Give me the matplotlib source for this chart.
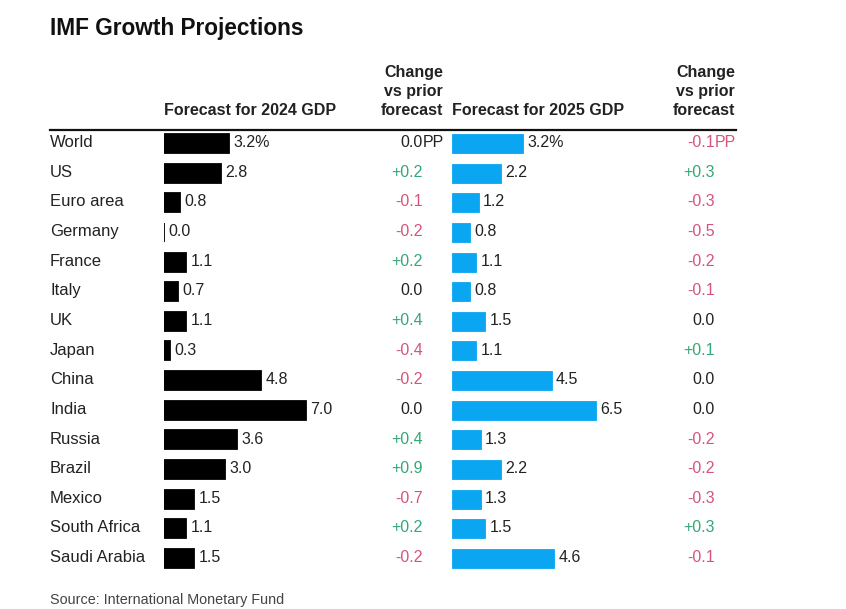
import matplotlib.pyplot as plt
from matplotlib.lines import Line2D
from matplotlib.transforms import blended_transform_factory

plt.rcParams['font.family'] = ['Liberation Sans', 'DejaVu Sans']

countries = ["World", "US", "Euro area", "Germany", "France", "Italy", "UK", "Japan",
             "China", "India", "Russia", "Brazil", "Mexico", "South Africa", "Saudi Arabia"]
gdp_2024 = [3.2, 2.8, 0.8, 0.0, 1.1, 0.7, 1.1, 0.3, 4.8, 7.0, 3.6, 3.0, 1.5, 1.1, 1.5]
chg_2024 = [0.0, 0.2, -0.1, -0.2, 0.2, 0.0, 0.4, -0.4, -0.2, 0.0, 0.4, 0.9, -0.7, 0.2, -0.2]
gdp_2025 = [3.2, 2.2, 1.2, 0.8, 1.1, 0.8, 1.5, 1.1, 4.5, 6.5, 1.3, 2.2, 1.3, 1.5, 4.6]
chg_2025 = [-0.1, 0.3, -0.3, -0.5, -0.2, -0.1, 0.0, 0.1, 0.0, 0.0, -0.2, -0.2, -0.3, 0.3, -0.1]

W, H = 846, 609
black = "#000000"
blue = "#0aa6f2"
green = "#34a877"
red = "#d4557a"
txt = "#222222"

fig = plt.figure(figsize=(W / 100, H / 100), dpi=100)

# row geometry in pixels
row0, step = 143.5, 29.64
n = len(countries)
top_px = row0 - step / 2
bot_px = row0 + step * (n - 1) + step / 2


def add_bar_axes(left_px, px_per_unit, width_px=220):
    ax = fig.add_axes([left_px / W, 1 - bot_px / H, width_px / W, (bot_px - top_px) / H])
    ax.set_xlim(0, width_px / px_per_unit)
    ax.set_ylim(n - 0.5, -0.5)
    ax.axis("off")
    return ax


ax1 = add_bar_axes(164, 20.3)
ax2 = add_bar_axes(452, 22.2)

ypos = list(range(n))
ax1.barh(ypos, gdp_2024, height=0.64, color=black, edgecolor=black, linewidth=1.3)
ax2.barh(ypos, gdp_2025, height=0.64, color=blue, edgecolor=blue, linewidth=0.6)

fs = 11.5
for ax, vals in [(ax1, gdp_2024), (ax2, gdp_2025)]:
    for i, v in enumerate(vals):
        lab = f"{v:.1f}" + ("%" if i == 0 else "")
        ax.annotate(lab, xy=(v, i), xytext=(3, -2.6), textcoords="offset points",
                    ha="left", va="baseline", fontsize=fs, color=txt)

tr = blended_transform_factory(fig.transFigure, ax1.transData)


def row_text(x_px, i, s, ha="left", color=txt, size=fs):
    ax1.annotate(s, xy=(x_px / W, i), xycoords=tr, xytext=(0, -2.6),
                 textcoords="offset points", ha=ha, va="baseline",
                 fontsize=size, color=color, annotation_clip=False)


def chg_color(v):
    if v > 0:
        return green
    if v < 0:
        return red
    return txt


for i, name in enumerate(countries):
    row_text(50, i, name, size=12)
    for x_px, v in [(423, chg_2024[i]), (715, chg_2025[i])]:
        s = "0.0" if v == 0 else f"{v:+.1f}"
        c = chg_color(v)
        row_text(x_px, i, s, ha="right", color=c)
        if i == 0:
            row_text(x_px, i, "PP", ha="left", color=c)

# title and headers
fig.text(50 / W, 1 - 28 / H, "IMF Growth Projections", fontsize=16.3,
         fontweight="bold", ha="left", va="center", color="#111111")

hdr_base = 1 - 115 / H
fig.text(164 / W, hdr_base, "Forecast for 2024 GDP", fontsize=fs, fontweight="bold",
         ha="left", va="baseline", color=txt)
fig.text(452 / W, hdr_base, "Forecast for 2025 GDP", fontsize=fs, fontweight="bold",
         ha="left", va="baseline", color=txt)
for x_px in (443, 735):
    fig.text(x_px / W, hdr_base, "Change\nvs prior\nforecast", fontsize=fs,
             fontweight="bold", ha="right", va="baseline", color=txt,
             multialignment="right", linespacing=1.32)

fig.add_artist(Line2D([50 / W, 736 / W], [1 - 130 / H, 1 - 130 / H],
                      color="#111111", linewidth=1.6))

fig.text(50 / W, 1 - 604 / H, "Source: International Monetary Fund", fontsize=10.4,
         ha="left", va="baseline", color="#444444")

fig.savefig("out.png", dpi=100, facecolor="white")
